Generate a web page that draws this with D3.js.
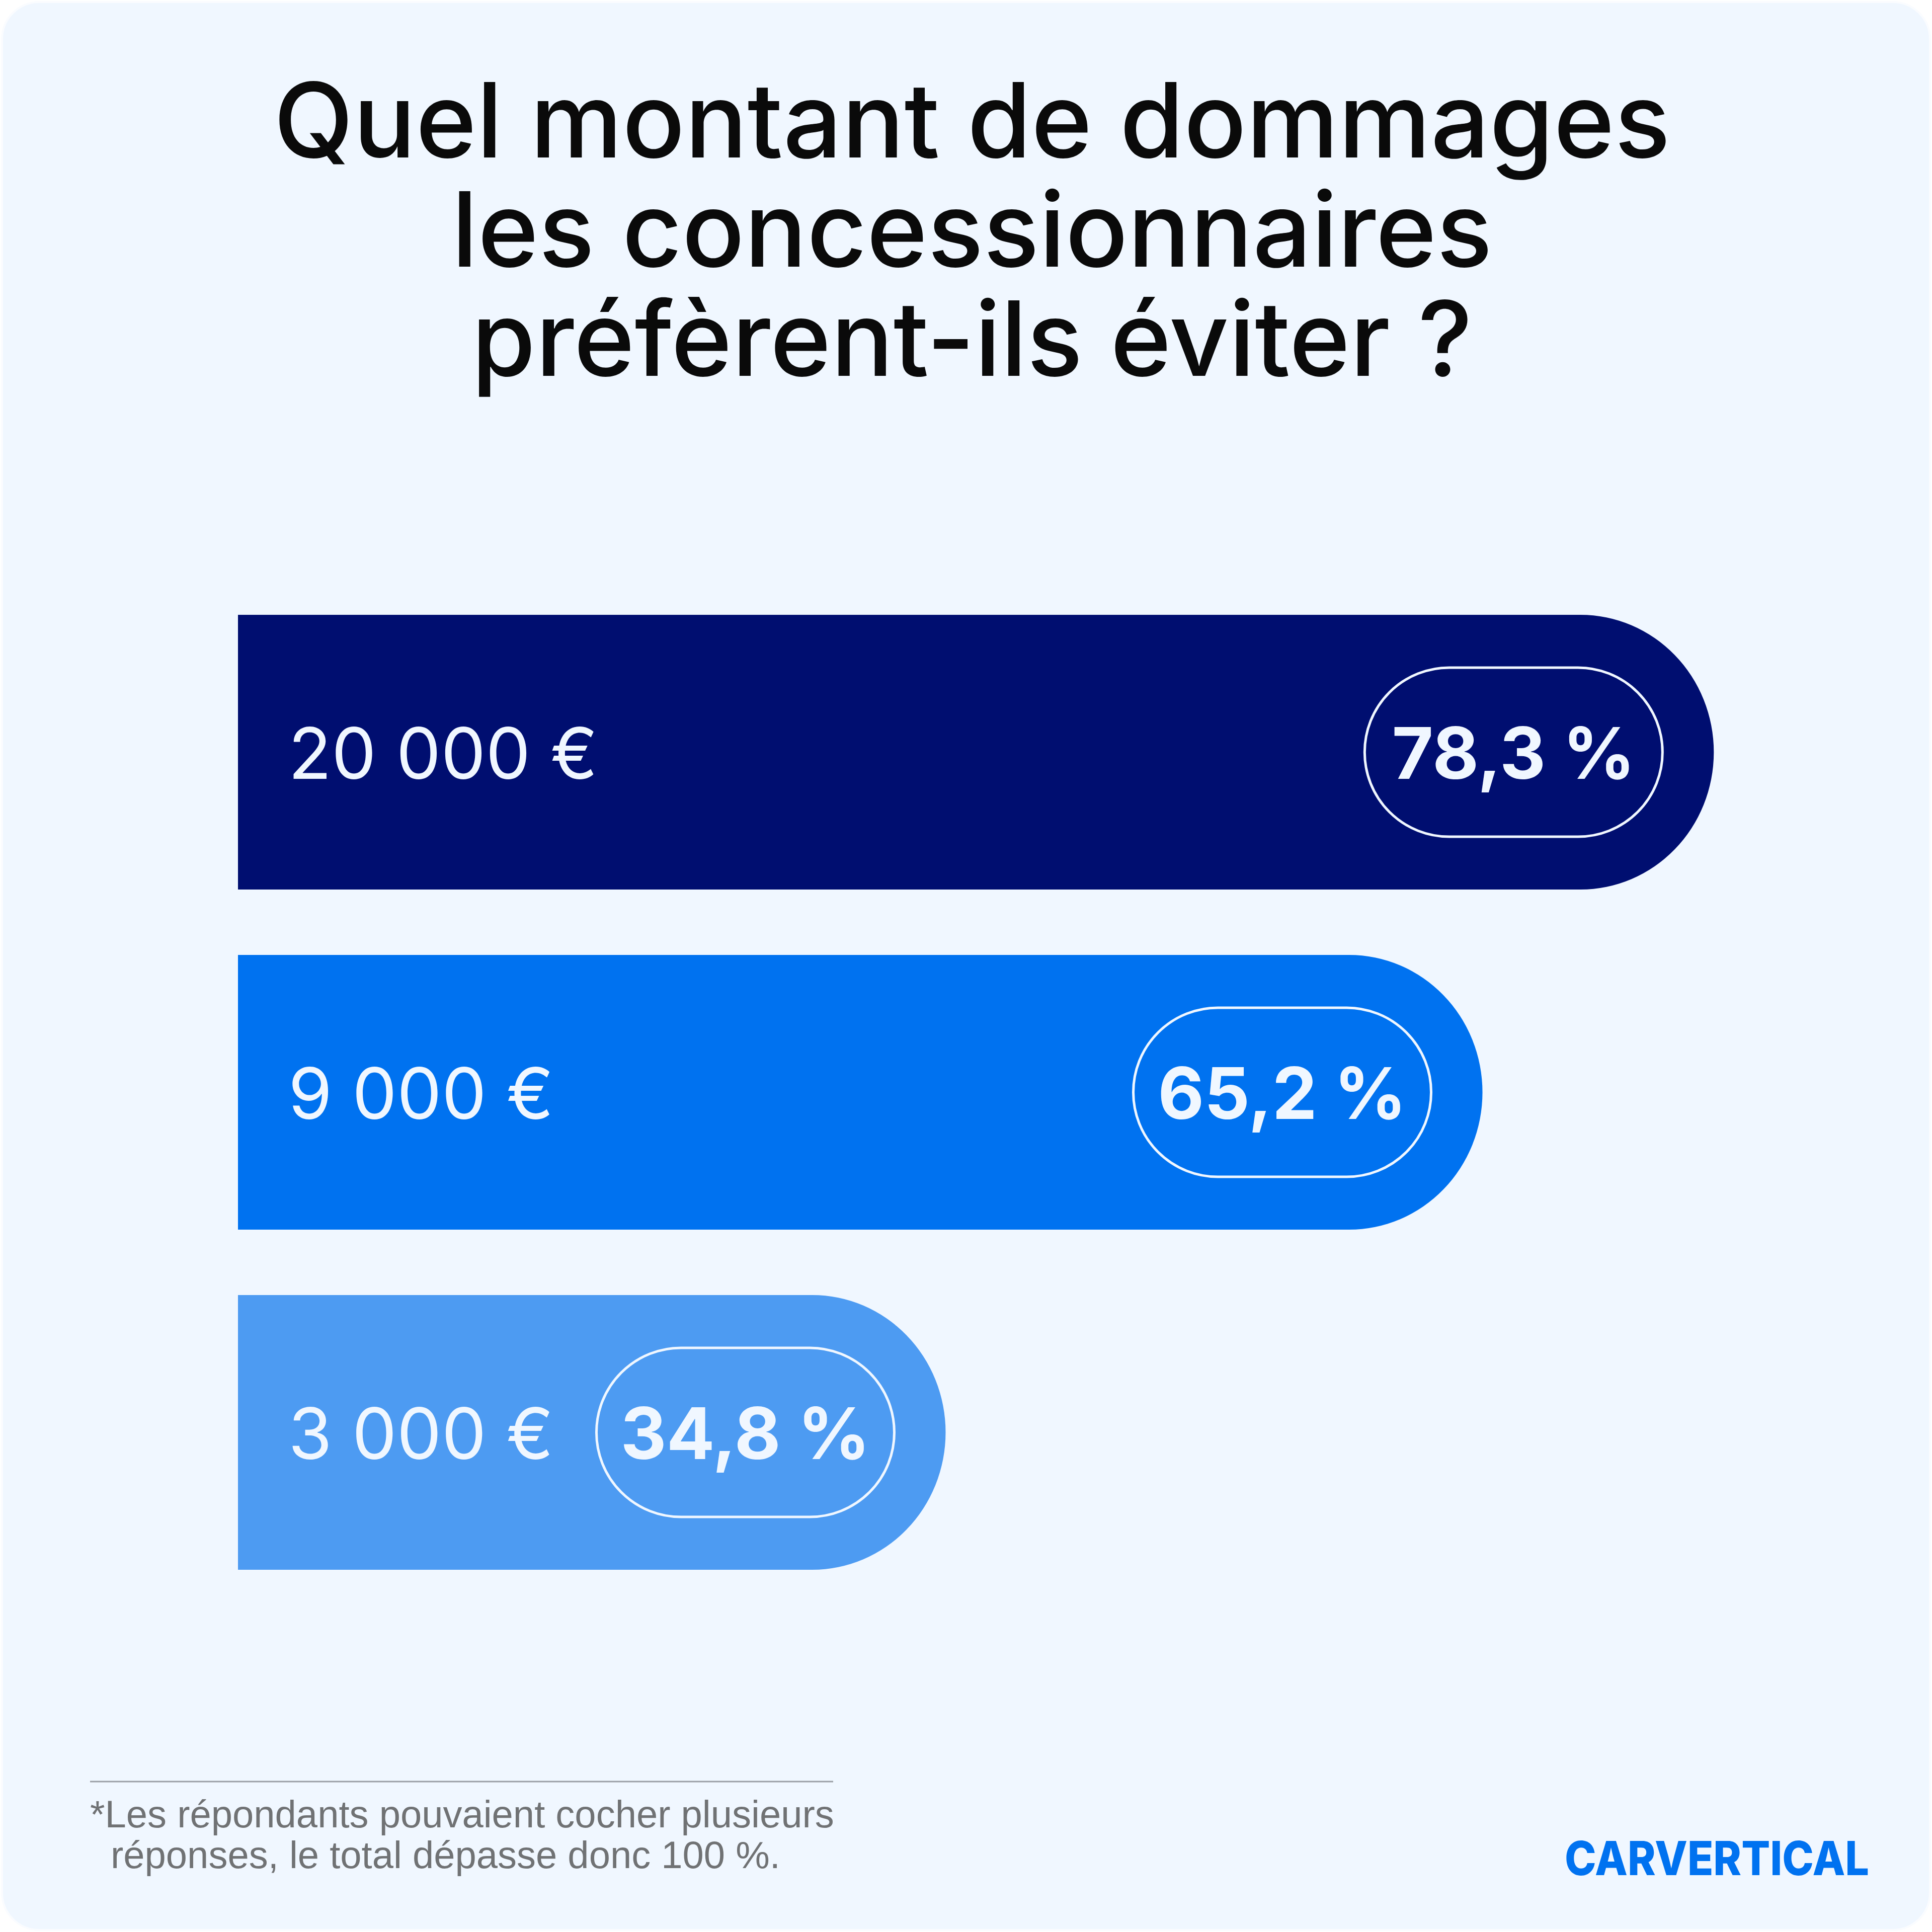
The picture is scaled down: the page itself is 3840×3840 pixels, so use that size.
<!DOCTYPE html>
<html>
<head>
<meta charset="utf-8">
<script src="https://cdn.jsdelivr.net/npm/d3@7"></script>
<style>
  html, body { margin: 0; padding: 0; background: #ffffff; }
  svg { display: block; }
</style>
</head>
<body>
<svg id="chart" width="3840" height="3840"></svg>
<script>
const titleLines = ["Quel montant de dommages", "les concessionnaires", "préfèrent-ils éviter ?"];
const categories = ["20 000 €", "9 000 €", "3 000 €"];
const values = [78.3, 65.2, 34.8];
const valueLabels = ["78,3 %", "65,2 %", "34,8 %"];
const barColors = ["#000E70", "#0072F0", "#4D9BF2"];
const footnoteLines = ["*Les répondants pouvaient cocher plusieurs", "réponses, le total dépasse donc 100 %."];
const brand = "CARVERTICAL";

const svg = d3.select("#chart");
const W = 3840, H = 3840;

// card
svg.append("rect")
  .attr("x", 4).attr("y", 4).attr("width", W - 8).attr("height", H - 8)
  .attr("rx", 74).attr("ry", 74)
  .attr("fill", "#F0F7FF")
  .attr("stroke", "#FAFCFF").attr("stroke-width", 4);

// title
titleLines.forEach((t, i) => {
  svg.append("text")
    .attr("x", 1932).attr("y", 313 + i * 217)
    .attr("text-anchor", "middle")
    .attr("font-family", "Inter, 'Noto Sans', sans-serif")
    .attr("font-weight", 500)
    .attr("font-size", 206)
    .attr("fill", "#0A0A0A")
    .text(t);
});

// scales
const x = d3.scaleLinear().domain([0, 100]).range([658, 4168]);
const y = d3.scaleBand().domain(categories).range([1222, 3120]).paddingInner(130 / 676).paddingOuter(0);
const x0 = 473;
const endRx = 265;

const g = svg.append("g");
const rows = g.selectAll("g.row").data(categories.map((c, i) => ({ c, v: values[i], lab: valueLabels[i], col: barColors[i] })))
  .join("g").attr("class", "row");

rows.append("path")
  .attr("fill", d => d.col)
  .attr("d", d => {
    const top = y(d.c), h = y.bandwidth(), x1 = x(d.v), ry = h / 2;
    return `M${x0},${top} H${x1 - endRx} A${endRx},${ry} 0 0 1 ${x1},${top + ry} A${endRx},${ry} 0 0 1 ${x1 - endRx},${top + h} H${x0} Z`;
  });

rows.append("text")
  .attr("x", x0 + 100)
  .attr("y", d => y(d.c) + y.bandwidth() / 2 + 53)
  .attr("font-family", "Inter, 'Noto Sans', sans-serif")
  .attr("font-weight", 400)
  .attr("font-size", 141)
  .attr("fill", "#F0F7FF")
  .text(d => d.c);

const pillW = 592, pillH = 336;
rows.append("rect")
  .attr("x", d => x(d.v) - 102 - pillW)
  .attr("y", d => y(d.c) + y.bandwidth() / 2 - pillH / 2)
  .attr("width", pillW).attr("height", pillH)
  .attr("rx", pillH / 2).attr("ry", pillH / 2)
  .attr("fill", "none")
  .attr("stroke", "#F0F7FF").attr("stroke-width", 5);

rows.append("text")
  .attr("x", d => x(d.v) - 102 - pillW / 2)
  .attr("y", d => y(d.c) + y.bandwidth() / 2 + 53)
  .attr("text-anchor", "middle")
  .attr("font-family", "Inter, 'Noto Sans', sans-serif")
  .attr("font-weight", 700)
  .attr("font-size", 142)
  .attr("fill", "#F0F7FF")
  .text(d => d.lab);

// footnote
svg.append("line")
  .attr("x1", 179).attr("x2", 1656).attr("y1", 3541).attr("y2", 3541)
  .attr("stroke", "#9A9FA6").attr("stroke-width", 3);

const fn = svg.append("text")
  .attr("font-family", "'Liberation Sans', Arial, sans-serif")
  .attr("font-size", 76)
  .attr("fill", "#707274");
fn.append("tspan").attr("x", 179).attr("y", 3632).text(footnoteLines[0]);
fn.append("tspan").attr("x", 220).attr("y", 3713).text(footnoteLines[1]);

// brand
svg.append("text")
  .attr("x", 3110).attr("y", 3727)
  .attr("font-family", "Inter, 'Noto Sans', sans-serif")
  .attr("font-weight", 800)
  .attr("font-size", 94)
  .attr("textLength", 605)
  .attr("lengthAdjust", "spacingAndGlyphs")
  .attr("fill", "#0072F0")
  .text(brand);
</script>
</body>
</html>
